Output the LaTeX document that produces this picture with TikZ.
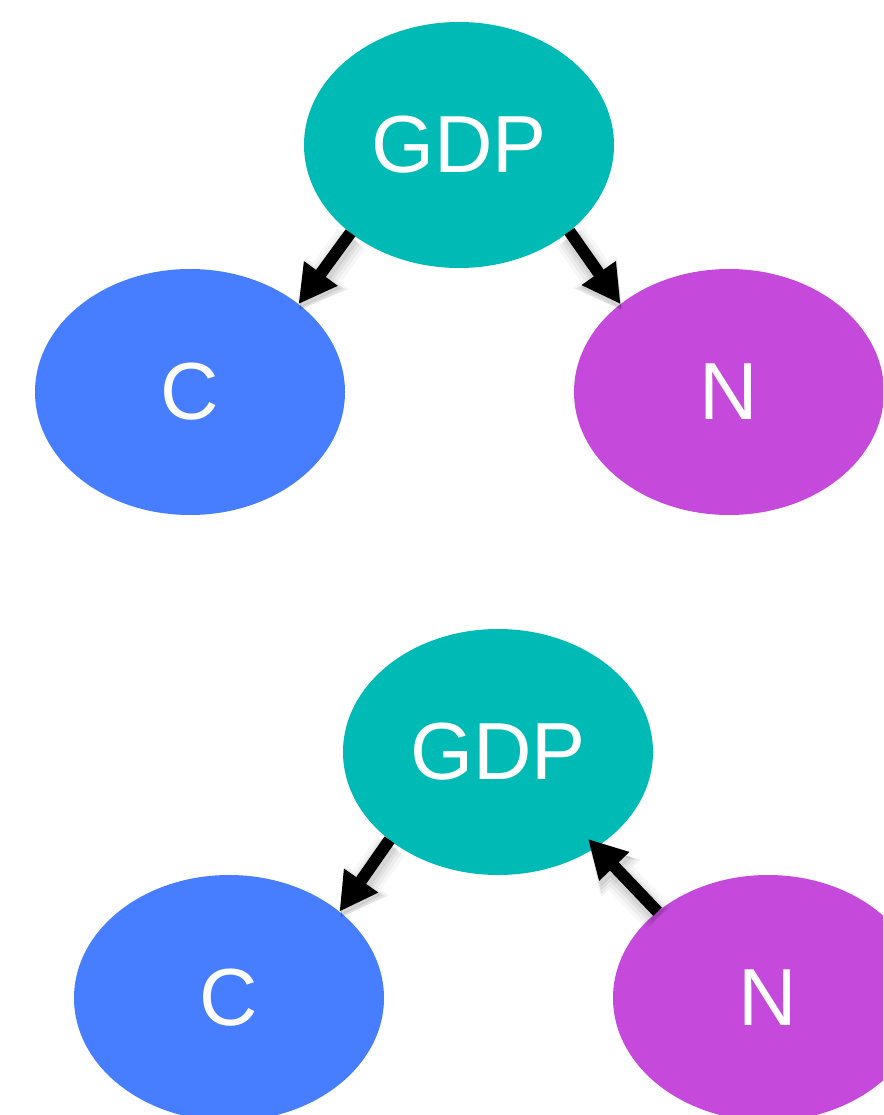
\documentclass[tikz,border=0pt]{standalone}
\usepackage{fontspec}
\setmainfont{Liberation Sans}
\usetikzlibrary{arrows.meta,shapes.geometric,calc}
\definecolor{gdpcol}{HTML}{00BAB5}
\definecolor{ccol}{HTML}{477EFF}
\definecolor{ncol}{HTML}{C54ADB}
\begin{document}
\begin{tikzpicture}[x=1pt,y=-1pt,
  ell/.style={ellipse, minimum width=310pt, minimum height=246pt, inner sep=0pt, outer sep=0pt, text=white, font=\fontsize{81}{84}\selectfont},
  gdpnode/.style={ell, fill=gdpcol},
  cnode/.style={ell, fill=ccol},
  nnode/.style={ell, fill=ncol},
  arr/.style={line width=12pt, -{Triangle[length=38pt,width=39pt]},
    preaction={draw=black, opacity=0.03, line width=34pt, -{Triangle[length=46pt,width=54pt,line width=1pt]}, transform canvas={shift={(1pt,-6pt)}}},
    preaction={draw=black, opacity=0.04, line width=27pt, -{Triangle[length=44pt,width=50pt,line width=1pt]}, transform canvas={shift={(1pt,-6pt)}}},
    preaction={draw=black, opacity=0.05, line width=21pt, -{Triangle[length=42pt,width=46pt,line width=1pt]}, transform canvas={shift={(1pt,-5pt)}}},
    preaction={draw=black, opacity=0.06, line width=16pt, -{Triangle[length=40pt,width=42pt,line width=1pt]}, transform canvas={shift={(1pt,-4pt)}}}}
]
\useasboundingbox (0,0) rectangle (883,1115);
\clip (0,0) rectangle (883,1115);
% top diagram
\node[gdpnode] (g1) at (459,145) {GDP};
\node[cnode] (c1) at (190,392) {C};
\node[nnode] (n1) at (729,392) {N};
% bottom diagram
\node[gdpnode] (g2) at (498,752) {GDP};
\node[cnode] (c2) at (229,998) {C};
\node[nnode] (n2) at (768,998) {N};
% arrows
\draw[arr] (g1.219) -- (c1.39);
\draw[arr] (g1.322) -- (n1.141);
\draw[arr] (g2.219) -- (c2.38);
\draw[arr] (n2.142) -- ($(g2.center)!0.915!(g2.316)$);
\end{tikzpicture}
\end{document}
